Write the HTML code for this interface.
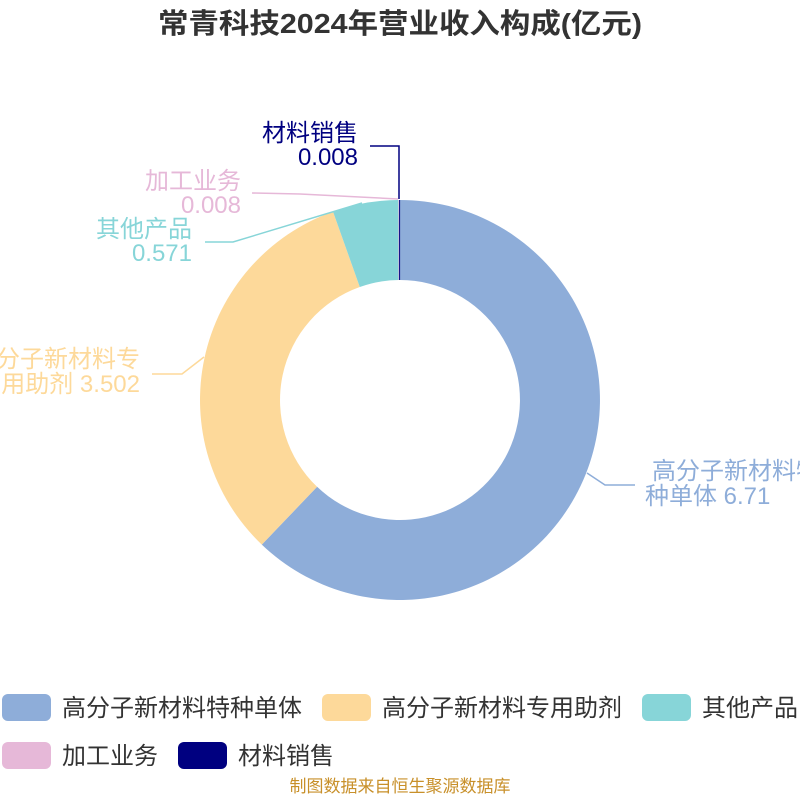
<!DOCTYPE html>
<html><head><meta charset="utf-8"><style>
body{margin:0;background:#fff;}
svg text{font-family:"Liberation Sans","Noto Sans CJK SC",sans-serif;}
</style></head><body>
<svg width="800" height="800" xmlns="http://www.w3.org/2000/svg">
<rect width="800" height="800" fill="#fff"/>
<text x="158" y="33" font-size="28" font-weight="bold" fill="#333" textLength="484" lengthAdjust="spacingAndGlyphs">常青科技2024年营业收入构成(亿元)</text>
<path d="M400,200 A200,200 0 1 1 261.8,544.6 L317.1,486.8 A120,120 0 1 0 400,280 Z" fill="#8eadd9"/>
<path d="M261.8,544.6 A200,200 0 0 1 333,211.6 L359.8,287 A120,120 0 0 0 317.1,486.8 Z" fill="#fdd99a"/>
<path d="M333,211.6 A200,200 0 0 1 398.3,200 L399,280 A120,120 0 0 0 359.8,287 Z" fill="#87d5d8"/>
<line x1="399" y1="200" x2="399" y2="280" stroke="#e6b8d8" stroke-width="1"/>
<line x1="399.6" y1="200" x2="399.6" y2="280" stroke="#000080" stroke-width="1"/>
<g fill="none" stroke-width="1.5">
<polyline points="587,473 605,485 635,485" stroke="#8eadd9"/>
<polyline points="204,357 182,374 152,374" stroke="#fdd99a"/>
<polyline points="362,203 233,242 205,242" stroke="#87d5d8"/>
<polyline points="398,199 300,194 252,193" stroke="#e6b8d8"/>
<polyline points="399,199 399,146 370,146" stroke="#000080"/>
</g>
<g font-size="24">
<text x="652" y="479" fill="#8eadd9">高分子新材料特</text>
<text x="645" y="504" fill="#8eadd9">种单体 6.71</text>
<text x="140" y="367" text-anchor="end" fill="#fdd99a">分子新材料专</text>
<text x="140" y="392" text-anchor="end" fill="#fdd99a">用助剂 3.502</text>
<text x="192" y="237" text-anchor="end" fill="#87d5d8">其他产品</text>
<text x="192" y="261" text-anchor="end" fill="#87d5d8">0.571</text>
<text x="241" y="189" text-anchor="end" fill="#e6b8d8">加工业务</text>
<text x="241" y="213" text-anchor="end" fill="#e6b8d8">0.008</text>
<text x="358" y="141" text-anchor="end" fill="#000080">材料销售</text>
<text x="358" y="165" text-anchor="end" fill="#000080">0.008</text>
</g>
<g font-size="24" fill="#333">
<rect x="2" y="694" width="49" height="27" rx="6" fill="#8eadd9"/><text x="62" y="716">高分子新材料特种单体</text>
<rect x="322" y="694" width="49" height="27" rx="6" fill="#fdd99a"/><text x="382" y="716">高分子新材料专用助剂</text>
<rect x="642" y="694" width="49" height="27" rx="6" fill="#87d5d8"/><text x="702" y="716">其他产品</text>
<rect x="2" y="742" width="49" height="27" rx="6" fill="#e6b8d8"/><text x="62" y="764">加工业务</text>
<rect x="178" y="742" width="49" height="27" rx="6" fill="#000080"/><text x="238" y="764">材料销售</text>
</g>
<text x="400" y="792" text-anchor="middle" font-size="17" fill="#c8902a">制图数据来自恒生聚源数据库</text>
</svg>
</body></html>
